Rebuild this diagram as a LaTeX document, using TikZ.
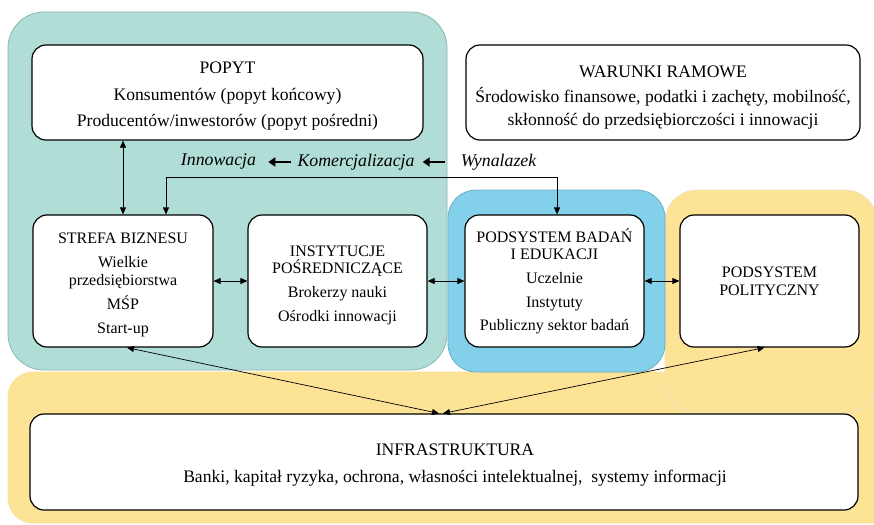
\documentclass[tikz,border=0pt]{standalone}
\usepackage{fontspec}
\setmainfont{Liberation Serif}
\usetikzlibrary{arrows.meta}
\definecolor{tealbg}{RGB}{176,221,214}
\definecolor{tealline}{RGB}{140,182,175}
\definecolor{bluebg}{RGB}{131,208,234}
\definecolor{blueline}{RGB}{110,172,196}
\definecolor{sandbg}{RGB}{252,227,150}
\definecolor{sandline}{RGB}{238,228,196}
% invisible strut that sets the height of a box's first line
\newcommand\toppad[1]{\rule{0pt}{#1}}

\begin{document}
\begin{tikzpicture}[x=1pt,y=-1pt,
  panel/.style={line width=0.8pt},
  box/.style={draw=black, line width=1.2pt, fill=white, rounded corners=14pt,
    align=center, inner sep=0pt, font=\fontsize{16}{24}\selectfont},
  bigbox/.style={box, font=\fontsize{17.6}{26}\selectfont},
  link/.style={line width=0.7pt,
    {Triangle[length=7pt,width=6pt]}-{Triangle[length=7pt,width=6pt]}},
  flowword/.style={font=\fontsize{17.8}{20}\selectfont\itshape, inner sep=0pt},
  flowarrow/.style={line width=2.6pt, -{Triangle[length=7pt,width=9pt]}}]

\clip (0,0) rectangle (874,524);

% coloured panels behind the boxes
\filldraw[panel, fill=sandbg, draw=sandbg] (8,372) [rounded corners=25pt] rectangle (900,523);
\filldraw[panel, fill=sandbg, draw=sandline] (665,190) [rounded corners=32pt] rectangle (877,413);
\filldraw[panel, fill=tealbg, draw=tealline] (8,12) [rounded corners=36pt] rectangle (447,370);
\filldraw[panel, fill=bluebg, draw=blueline] (448,190) [rounded corners=28pt] rectangle (665,372);

% boxes
\node[bigbox, minimum width=391pt, minimum height=95pt] (popyt) at (227.5,92.5)
  {\toppad{19.6pt}POPYT\\[1pt] Konsumentów (popyt końcowy)\\ Producentów/inwestorów (popyt pośredni)};
\node[bigbox, minimum width=394pt, minimum height=95pt] (warunki) at (663,92.5)
  {\toppad{21.6pt}WARUNKI RAMOWE\\[-1pt] Środowisko finansowe, podatki i zachęty, mobilność,\\[-3pt]
   skłonność do przedsiębiorczości i innowacji};
\node[box, minimum width=180pt, minimum height=132pt] (strefa) at (123,281)
  {\toppad{18.6pt}STREFA BIZNESU\\[0pt] Wielkie\\[-6pt] przedsiębiorstwa\\ MŚP\\ Start-up};
\node[box, minimum width=179pt, minimum height=132pt] (posr) at (337.5,281)
  {\toppad{18.6pt}INSTYTUCJE\\[-7pt] POŚREDNICZĄCE\\ Brokerzy nauki\\ Ośrodki innowacji};
\node[box, minimum width=179pt, minimum height=132pt] (badan) at (554.5,281)
  {PODSYSTEM BADAŃ\\[-7pt] I EDUKACJI\\ Uczelnie\\ Instytuty\\[-1pt] Publiczny sektor badań};
\node[box, minimum width=179pt, minimum height=132pt] (polit) at (769.5,281)
  {PODSYSTEM\\[-6pt] POLITYCZNY};
\node[bigbox, minimum width=828pt, minimum height=96pt] (infra) at (444,462)
  {\toppad{17.6pt}\hspace*{22pt}INFRASTRUKTURA\\[1pt]
   \hspace*{22pt}Banki, kapitał ryzyka, ochrona, własności intelektualnej,~ systemy informacji};

% path from invention to innovation
\node[flowword] (innow) at (218.5,162) {Innowacja};
\node[flowword] (komerc) at (356,162) {Komercjalizacja};
\node[flowword] (wynal) at (498.5,162) {Wynalazek};
\draw[flowarrow, shorten <=6pt, shorten >=12pt] (komerc.west) -- (innow.east);
\draw[flowarrow, shorten <=16pt, shorten >=8pt] (wynal.west) -- (komerc.east);

% links between the boxes
\draw[link] (strefa.north) -- (strefa.north |- popyt.south);
\draw[link] ([xshift=2.5pt]badan.north) -- ++(0,-37) -| ([xshift=43pt]strefa.north);
\draw[link] (strefa.east) -- (posr.west);
\draw[link] (posr.east) -- (badan.west);
\draw[link] (badan.east) -- (polit.west);
\draw[link] ([xshift=4pt]strefa.south) -- ([xshift=-5pt]infra.north);
\draw[link] ([xshift=-5pt]polit.south) -- ([xshift=-1pt]infra.north);
\end{tikzpicture}
\end{document}
